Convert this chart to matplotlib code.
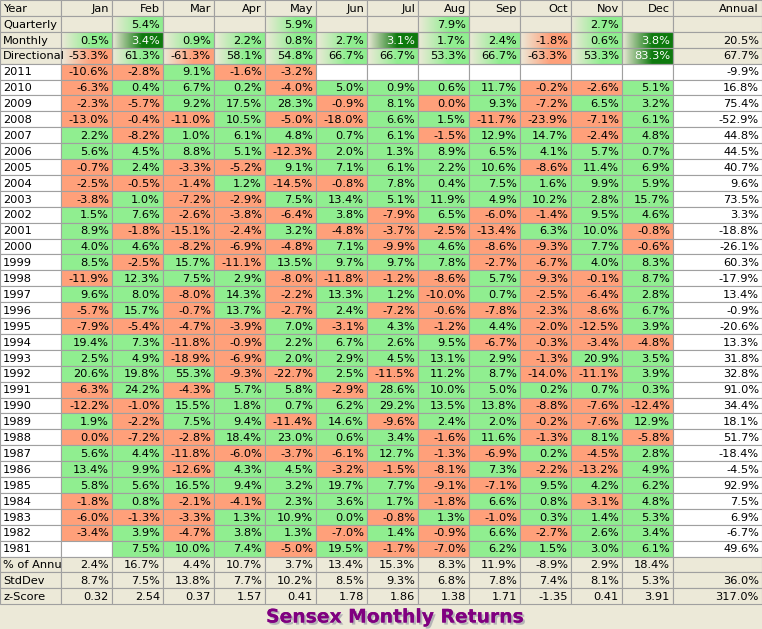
import numpy as np
import matplotlib.pyplot as plt
from matplotlib.patches import Rectangle
from matplotlib.colors import to_rgb
import matplotlib.patheffects as pe

months = ['Jan', 'Feb', 'Mar', 'Apr', 'May', 'Jun', 'Jul', 'Aug', 'Sep', 'Oct', 'Nov', 'Dec']
years = list(range(2011, 1980, -1))

# monthly returns (%) per year, Jan..Dec; None = no data
returns = [
    [-10.6, -2.8, 9.1, -1.6, -3.2, None, None, None, None, None, None, None],
    [-6.3, 0.4, 6.7, 0.2, -4.0, 5.0, 0.9, 0.6, 11.7, -0.2, -2.6, 5.1],
    [-2.3, -5.7, 9.2, 17.5, 28.3, -0.9, 8.1, -0.01, 9.3, -7.2, 6.5, 3.2],
    [-13.0, -0.4, -11.0, 10.5, -5.0, -18.0, 6.6, 1.5, -11.7, -23.9, -7.1, 6.1],
    [2.2, -8.2, 1.0, 6.1, 4.8, 0.7, 6.1, -1.5, 12.9, 14.7, -2.4, 4.8],
    [5.6, 4.5, 8.8, 5.1, -12.3, 2.0, 1.3, 8.9, 6.5, 4.1, 5.7, 0.7],
    [-0.7, 2.4, -3.3, -5.2, 9.1, 7.1, 6.1, 2.2, 10.6, -8.6, 11.4, 6.9],
    [-2.5, -0.5, -1.4, 1.2, -14.5, -0.8, 7.8, 0.4, 7.5, 1.6, 9.9, 5.9],
    [-3.8, 1.0, -7.2, -2.9, 7.5, 13.4, 5.1, 11.9, 4.9, 10.2, 2.8, 15.7],
    [1.5, 7.6, -2.6, -3.8, -6.4, 3.8, -7.9, 6.5, -6.0, -1.4, 9.5, 4.6],
    [8.9, -1.8, -15.1, -2.4, 3.2, -4.8, -3.7, -2.5, -13.4, 6.3, 10.0, -0.8],
    [4.0, 4.6, -8.2, -6.9, -4.8, 7.1, -9.9, 4.6, -8.6, -9.3, 7.7, -0.6],
    [8.5, -2.5, 15.7, -11.1, 13.5, 9.7, 9.7, 7.8, -2.7, -6.7, 4.0, 8.3],
    [-11.9, 12.3, 7.5, 2.9, -8.0, -11.8, -1.2, -8.6, 5.7, -9.3, -0.1, 8.7],
    [9.6, 8.0, -8.0, 14.3, -2.2, 13.3, 1.2, -10.0, 0.7, -2.5, -6.4, 2.8],
    [-5.7, 15.7, -0.7, 13.7, -2.7, 2.4, -7.2, -0.6, -7.8, -2.3, -8.6, 6.7],
    [-7.9, -5.4, -4.7, -3.9, 7.0, -3.1, 4.3, -1.2, 4.4, -2.0, -12.5, 3.9],
    [19.4, 7.3, -11.8, -0.9, 2.2, 6.7, 2.6, 9.5, -6.7, -0.3, -3.4, -4.8],
    [2.5, 4.9, -18.9, -6.9, 2.0, 2.9, 4.5, 13.1, 2.9, -1.3, 20.9, 3.5],
    [20.6, 19.8, 55.3, -9.3, -22.7, 2.5, -11.5, 11.2, 8.7, -14.0, -11.1, 3.9],
    [-6.3, 24.2, -4.3, 5.7, 5.8, -2.9, 28.6, 10.0, 5.0, 0.2, 0.7, 0.3],
    [-12.2, -1.0, 15.5, 1.8, 0.7, 6.2, 29.2, 13.5, 13.8, -8.8, -7.6, -12.4],
    [1.9, -2.2, 7.5, 9.4, -11.4, 14.6, -9.6, 2.4, 2.0, -0.2, -7.6, 12.9],
    [-0.01, -7.2, -2.8, 18.4, 23.0, 0.6, 3.4, -1.6, 11.6, -1.3, 8.1, -5.8],
    [5.6, 4.4, -11.8, -6.0, -3.7, -6.1, 12.7, -1.3, -6.9, 0.2, -4.5, 2.8],
    [13.4, 9.9, -12.6, 4.3, 4.5, -3.2, -1.5, -8.1, 7.3, -2.2, -13.2, 4.9],
    [5.8, 5.6, 16.5, 9.4, 3.2, 19.7, 7.7, -9.1, -7.1, 9.5, 4.2, 6.2],
    [-1.8, 0.8, -2.1, -4.1, 2.3, 3.6, 1.7, -1.8, 6.6, 0.8, -3.1, 4.8],
    [-6.0, -1.3, -3.3, 1.3, 10.9, 0.01, -0.8, 1.3, -1.0, 0.3, 1.4, 5.3],
    [-3.4, 3.9, -4.7, 3.8, 1.3, -7.0, 1.4, -0.9, 6.6, -2.7, 2.6, 3.4],
    [None, 7.5, 10.0, 7.4, -5.0, 19.5, -1.7, -7.0, 6.2, 1.5, 3.0, 6.1],
]
annual = [-9.9, 16.8, 75.4, -52.9, 44.8, 44.5, 40.7, 9.6, 73.5, 3.3, -18.8, -26.1,
          60.3, -17.9, 13.4, -0.9, -20.6, 13.3, 31.8, 32.8, 91.0, 34.4, 18.1, 51.7,
          -18.4, -4.5, 92.9, 7.5, 6.9, -6.7, 49.6]

quarterly = [None, 5.4, None, None, 5.9, None, None, 7.9, None, None, 2.7, None]
monthly = [0.5, 3.4, 0.9, 2.2, 0.8, 2.7, 3.1, 1.7, 2.4, -1.8, 0.6, 3.8]
monthly_annual = 20.5
directional = [-53.3, 61.3, -61.3, 58.1, 54.8, 66.7, 66.7, 53.3, 66.7, -63.3, 53.3, 83.3]
directional_annual = 67.7
pct_of_annual = [2.4, 16.7, 4.4, 10.7, 3.7, 13.4, 15.3, 8.3, 11.9, -8.9, 2.9, 18.4]
stddev = [8.7, 7.5, 13.8, 7.7, 10.2, 8.5, 9.3, 6.8, 7.8, 7.4, 8.1, 5.3]
stddev_annual = 36.0
zscore = [0.32, 2.54, 0.37, 1.57, 0.41, 1.78, 1.86, 1.38, 1.71, -1.35, 0.41, 3.91]
zscore_annual = 317.0

# colours
BEIGE = '#ECE9D8'
GREEN = '#90EE90'
SALMON = '#FFA07A'
DARK = '#0E7A0E'
GRID = '#A0A0A0'

W, H = 762, 629
col_edges = [0, 61, 112, 163, 214, 265, 316, 367, 418, 469, 520, 571, 622, 673, 762]
row_h = 15.9


def pct(v):
    s = f"{v:.1f}"
    if s == '-0.0':
        s = '0.0'
    return s + '%'


fig = plt.figure(figsize=(W / 100, H / 100), dpi=100)
fig.patch.set_facecolor(BEIGE)
ax = fig.add_axes([0, 0, 1, 1])
ax.set_xlim(0, W)
ax.set_ylim(H, 0)
ax.axis('off')

FS = 8.2


def cell(r, c, color):
    x0, x1 = col_edges[c], col_edges[c + 1]
    ax.add_patch(Rectangle((x0, r * row_h), x1 - x0, row_h, facecolor=color,
                           edgecolor=GRID, lw=0.8, zorder=1))


def grad_cell(r, c, color):
    x0, x1 = col_edges[c], col_edges[c + 1]
    a, b = np.array(to_rgb(BEIGE)), np.array(to_rgb(color))
    t = np.clip(np.linspace(0, 1, 60) / 0.6, 0, 1)[None, :, None]
    img = a * (1 - t) + b * t
    ax.imshow(img, extent=(x0, x1, (r + 1) * row_h, r * row_h), aspect='auto',
              interpolation='bilinear', zorder=1)
    ax.add_patch(Rectangle((x0, r * row_h), x1 - x0, row_h, facecolor='none',
                           edgecolor=GRID, lw=0.8, zorder=2))


def text(r, c, s, color='black', left=False):
    if left:
        x, ha = col_edges[c] + 3, 'left'
    else:
        x, ha = col_edges[c + 1] - 3, 'right'
    ax.text(x, (r + 0.55) * row_h, s, ha=ha, va='center', fontsize=FS,
            color=color, zorder=3, family=['DejaVu Sans Condensed', 'DejaVu Sans'])


def sign_color(v):
    return GREEN if v > 0 else SALMON


# header row
for c in range(14):
    cell(0, c, BEIGE)
text(0, 0, 'Year', left=True)
for i, m in enumerate(months):
    text(0, i + 1, m)
text(0, 13, 'Annual')

# summary rows with gradient fills
dark_monthly = {1, 6, 11}
summary = [('Quarterly', quarterly, None, set()),
           ('Monthly', monthly, monthly_annual, dark_monthly),
           ('Directional', directional, directional_annual, {11})]
for k, (label, vals, ann, dark) in enumerate(summary):
    r = k + 1
    cell(r, 0, BEIGE)
    text(r, 0, label, left=True)
    for i, v in enumerate(vals):
        if v is None:
            cell(r, i + 1, BEIGE)
            continue
        if i in dark:
            grad_cell(r, i + 1, DARK)
            text(r, i + 1, pct(v), color='white')
        else:
            grad_cell(r, i + 1, sign_color(v))
            text(r, i + 1, pct(v))
    cell(r, 13, BEIGE)
    if ann is not None:
        text(r, 13, pct(ann))

# yearly rows
for k, (yr, vals, ann) in enumerate(zip(years, returns, annual)):
    r = k + 4
    cell(r, 0, 'white')
    text(r, 0, str(yr), left=True)
    for i, v in enumerate(vals):
        if v is None:
            cell(r, i + 1, 'white')
        else:
            cell(r, i + 1, sign_color(v))
            text(r, i + 1, pct(v))
    cell(r, 13, 'white')
    text(r, 13, pct(ann))

# statistics rows
stats = [('% of Annu', [pct(v) for v in pct_of_annual], ''),
         ('StdDev', [pct(v) for v in stddev], pct(stddev_annual)),
         ('z-Score', [f"{v:.2f}" for v in zscore], pct(zscore_annual))]
for k, (label, vals, ann) in enumerate(stats):
    r = k + 4 + len(years)
    for c in range(14):
        cell(r, c, BEIGE)
    text(r, 0, label, left=True)
    for i, s in enumerate(vals):
        text(r, i + 1, s)
    text(r, 13, ann)

# title
ax.text(395, 617, 'Sensex Monthly Returns', ha='center', va='center',
        fontsize=13.5, fontweight='bold', color='#800080',
        family=['DejaVu Sans Condensed', 'DejaVu Sans'],
        path_effects=[pe.withSimplePatchShadow(offset=(1.5, -1.5), shadow_rgbFace='#9090A0', alpha=0.6),
                      pe.Normal()])

fig.savefig('out.png', dpi=100, facecolor=BEIGE)
